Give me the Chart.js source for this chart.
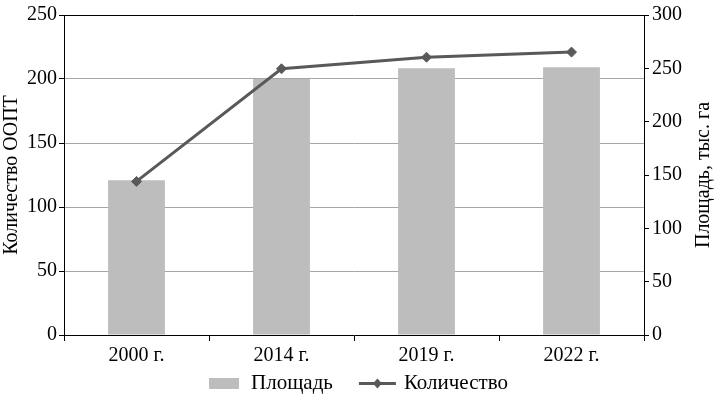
<!DOCTYPE html>
<html><head><meta charset="utf-8">
<script src="https://cdn.jsdelivr.net/npm/chart.js@4/dist/chart.umd.min.js"></script>
<style>html,body{margin:0;padding:0;background:#fff}#wrap{width:717px;height:396px}</style>
</head><body><div id="wrap"><canvas id="c" width="717" height="396"></canvas></div>
<script>
const categories = ['2000 г.', '2014 г.', '2019 г.', '2022 г.'];
const areaValues = [145, 240, 250, 251];
const countValues = [120, 208, 217, 221];
const leftTicks = [0, 50, 100, 150, 200, 250];
const rightTicks = [0, 50, 100, 150, 200, 250, 300];
const seriesNames = ['Площадь', 'Количество'];
const axisTitles = ['Количество ООПТ', 'Площадь, тыс. га'];

const FONT = '"Liberation Serif", "Times New Roman", serif';
const BAR_COLOR = '#bdbdbd';
const LINE_COLOR = '#595959';

const rightTitlePlugin = {
  id: 'rightTitle',
  afterDraw(chart) {
    const ctx = chart.ctx, a = chart.chartArea;
    ctx.save();
    ctx.font = '20px ' + FONT;
    ctx.fillStyle = '#000';
    ctx.translate(704, (a.top + a.bottom) / 2);
    ctx.rotate(-Math.PI / 2);
    ctx.textAlign = 'center';
    ctx.textBaseline = 'middle';
    ctx.fillText(axisTitles[1], 0, 0);
    ctx.restore();
  }
};

const legendPlugin = {
  id: 'customLegend',
  afterDraw(chart) {
    const ctx = chart.ctx;
    ctx.save();
    ctx.font = '21px ' + FONT;
    ctx.fillStyle = '#000';
    ctx.textBaseline = 'middle';
    const y = 383;
    const w0 = ctx.measureText(seriesNames[0]).width;
    const w1 = ctx.measureText(seriesNames[1]).width;
    const boxW = 30, gapA = 12, gapB = 26, lineW = 37, gapC = 8;
    const total = boxW + gapA + w0 + gapB + lineW + gapC + w1;
    let x = (chart.width - total) / 2;
    ctx.fillStyle = BAR_COLOR;
    ctx.fillRect(x, y - 5, boxW, 11);
    x += boxW + gapA;
    ctx.fillStyle = '#000';
    ctx.fillText(seriesNames[0], x, y);
    x += w0 + gapB;
    ctx.strokeStyle = LINE_COLOR;
    ctx.lineWidth = 3;
    ctx.beginPath();
    ctx.moveTo(x, y + 0.5);
    ctx.lineTo(x + lineW, y + 0.5);
    ctx.stroke();
    const cx = x + lineW / 2;
    ctx.fillStyle = LINE_COLOR;
    ctx.beginPath();
    ctx.moveTo(cx, y - 4.5); ctx.lineTo(cx + 4.5, y + 0.5); ctx.lineTo(cx, y + 5.5); ctx.lineTo(cx - 4.5, y + 0.5);
    ctx.closePath(); ctx.fill();
    x += lineW + gapC;
    ctx.fillStyle = '#000';
    ctx.fillText(seriesNames[1], x, y);
    ctx.restore();
  }
};

new Chart(document.getElementById('c'), {
  data: {
    labels: categories,
    datasets: [
      {
        type: 'line', label: seriesNames[1], data: countValues, yAxisID: 'y', order: 0,
        borderColor: LINE_COLOR, backgroundColor: LINE_COLOR, borderWidth: 3,
        pointStyle: 'rectRot', pointRadius: 5, pointBackgroundColor: LINE_COLOR,
        pointBorderColor: LINE_COLOR, pointBorderWidth: 1, tension: 0
      },
      {
        type: 'bar', label: seriesNames[0], data: areaValues, yAxisID: 'y1', order: 1,
        backgroundColor: BAR_COLOR, borderWidth: 0,
        categoryPercentage: 0.8, barPercentage: 0.49
      }
    ]
  },
  options: {
    responsive: false, animation: false, devicePixelRatio: 1,
    layout: { padding: { top: 12, left: 0, right: 0, bottom: 0 } },
    plugins: { legend: { display: false }, tooltip: { enabled: false } },
    scales: {
      x: {
        type: 'category', offset: true,
        grid: { offset: true, drawOnChartArea: false, drawTicks: true, tickLength: 6, tickColor: '#000', color: '#000' },
        border: { color: '#000', width: 1 },
        ticks: { color: '#000', font: { family: FONT, size: 20 }, padding: 3, maxRotation: 0 },
        afterFit(s) { s.height = 61; }
      },
      y: {
        position: 'left', min: 0, max: 250,
        afterBuildTicks(s) { s.ticks = leftTicks.map(v => ({ value: v })); },
        grid: {
          color: c => (c.tick && c.tick.value === 250) ? '#000' : (c.tick && c.tick.value === 0 ? 'rgba(0,0,0,0)' : '#a6a6a6'),
          lineWidth: 1, tickColor: '#000', tickLength: 5, drawTicks: true
        },
        border: { color: '#000', width: 1 },
        ticks: { color: '#000', font: { family: FONT, size: 20 }, padding: 2 },
        title: { display: true, text: axisTitles[0], color: '#000', font: { family: FONT, size: 20 }, padding: { top: 0, bottom: 2 } },
        afterFit(s) { s.width = 64; }
      },
      y1: {
        position: 'right', min: 0, max: 300,
        afterBuildTicks(s) { s.ticks = rightTicks.map(v => ({ value: v })); },
        grid: { drawOnChartArea: false, tickColor: '#000', tickLength: 5, color: '#000' },
        border: { color: '#000', width: 1 },
        ticks: { color: '#000', font: { family: FONT, size: 20 }, padding: 3 },
        afterFit(s) { s.width = 73; }
      }
    }
  },
  plugins: [rightTitlePlugin, legendPlugin]
});
</script>
</body></html>
